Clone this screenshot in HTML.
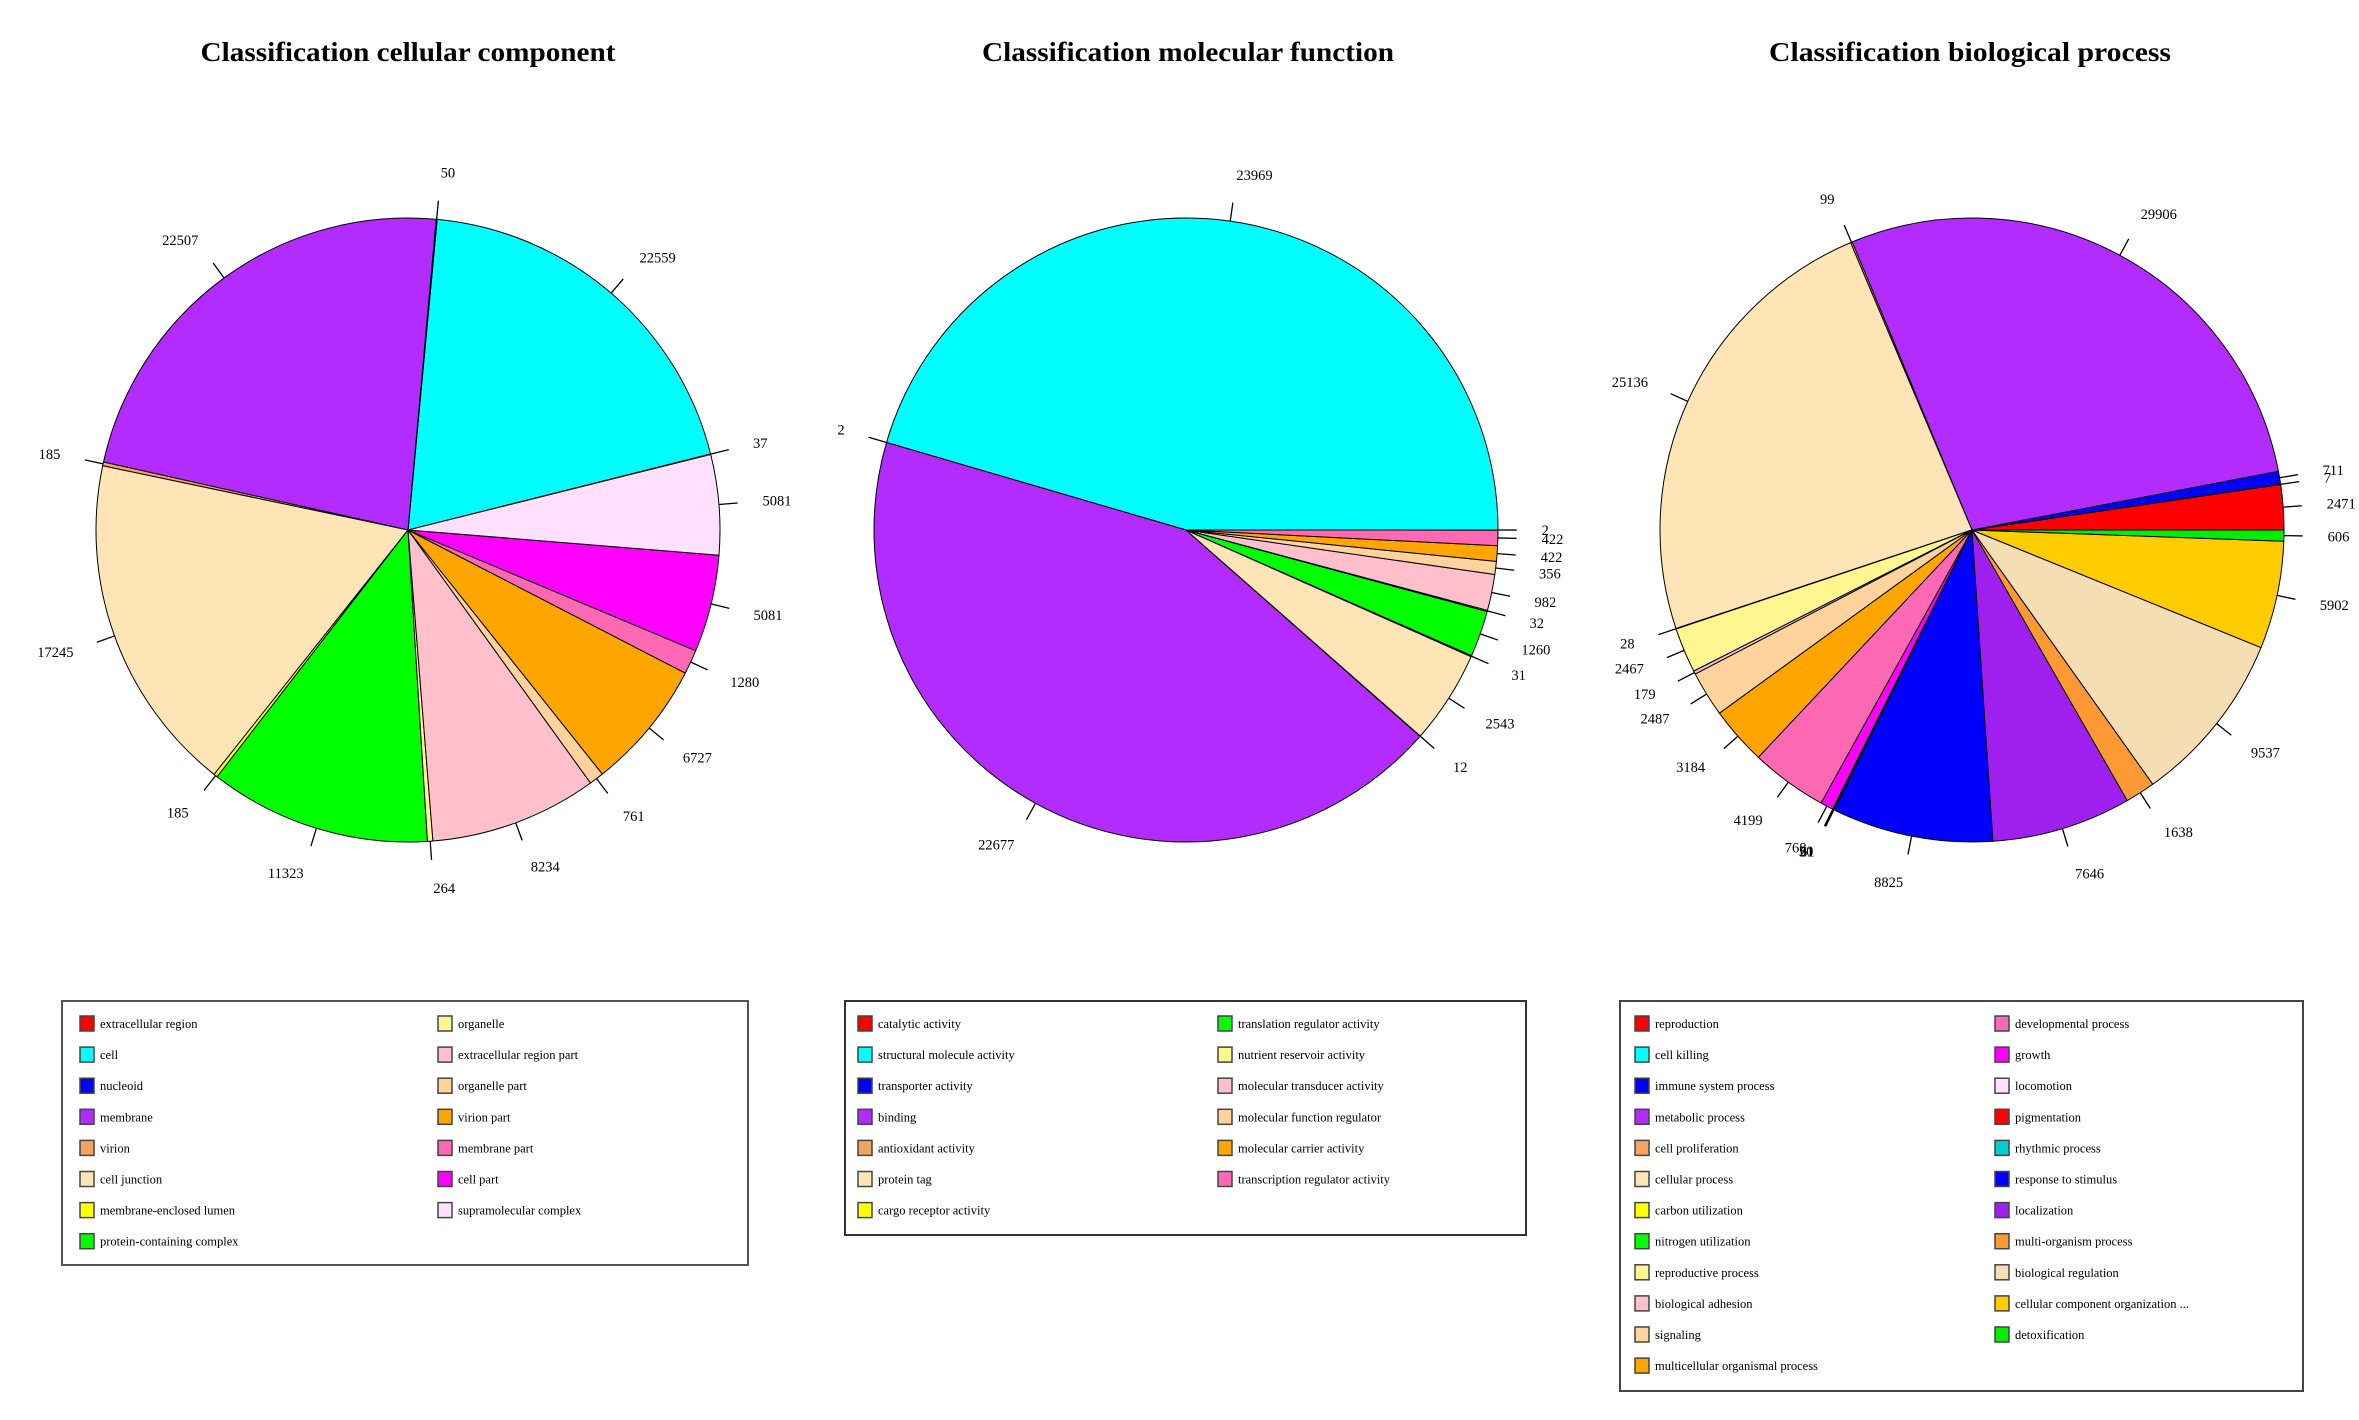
<!DOCTYPE html>
<html><head><meta charset="utf-8"><style>
html,body{margin:0;padding:0;background:#fff;}
svg{display:block;}
text{font-family:"Liberation Serif",serif;}
</style></head><body>
<svg id="s" width="2359" height="1420" viewBox="0 0 2359 1420" xmlns="http://www.w3.org/2000/svg">
<rect width="2359" height="1420" fill="#fff"/>
<text x="408" y="61" font-size="27" font-weight="bold" text-anchor="middle" textLength="415" lengthAdjust="spacingAndGlyphs">Classification cellular component</text>
<text x="1188" y="61" font-size="27" font-weight="bold" text-anchor="middle" textLength="412" lengthAdjust="spacingAndGlyphs">Classification molecular function</text>
<text x="1970" y="61" font-size="27" font-weight="bold" text-anchor="middle" textLength="402" lengthAdjust="spacingAndGlyphs">Classification biological process</text>
<g id="pies"></g>
<g font-size="12.5">
<rect x="62" y="1001" width="686" height="264" fill="none" stroke="#555" stroke-width="2"/>
<rect x="845" y="1001" width="681" height="234" fill="none" stroke="#333" stroke-width="2"/>
<rect x="1620" y="1001" width="683" height="390" fill="none" stroke="#444" stroke-width="2"/>
<g id="leg"></g>
</g>
</svg>
<script>
var NS="http://www.w3.org/2000/svg";
function el(t,a,p){var e=document.createElementNS(NS,t);for(var k in a)e.setAttribute(k,a[k]);p.appendChild(e);return e;}
var P=document.getElementById("pies");
function pie(cx,cy,r,start,data){
  var tot=0;data.forEach(function(d){tot+=d[0];});
  var a=start*Math.PI/180;
  data.forEach(function(d){
    var da=d[0]/tot*2*Math.PI, a2=a+da;
    var x1=cx+r*Math.cos(a),y1=cy-r*Math.sin(a),x2=cx+r*Math.cos(a2),y2=cy-r*Math.sin(a2);
    el("path",{d:"M"+cx+","+cy+" L"+x1+","+y1+" A"+r+","+r+" 0 "+(da>Math.PI?1:0)+" 0 "+x2+","+y2+" Z",fill:d[1],stroke:"#000","stroke-width":"1"},P);
    var m=(a+a2)/2,c=Math.cos(m),s=Math.sin(m);
    if(d[2]!==""){
      el("line",{x1:cx+r*c,y1:cy-r*s,x2:cx+1.06*r*c,y2:cy-1.06*r*s,stroke:"#000","stroke-width":"1.3"},P);
      var t=el("text",{x:cx+1.14*r*c,y:cy-1.15*r*s+5,"font-size":"14.5","text-anchor":c>0?"start":"end"},P);
      t.textContent=d[2];
    }
    a=a2;
  });
}
pie(408,530,312,14,[
[0.13,"#FF0000","37"],[70,"#00FFFF","22559"],[0.18,"#0000FF","50"],[82,"#B22BFF","22507"],[0.7,"#F4A460","185"],
[63,"#FFE4B5","17245"],[0.7,"#FFFF00","185"],[41,"#00FF00","11323"],[1,"#FFF68F","264"],[31,"#FFC0CB","8234"],
[2.7,"#FFD39B","761"],[24,"#FFA500","6727"],[4.5,"#FF69B4","1280"],[18,"#FF00FF","5081"],[18.5,"#FFE1FF","5081"]]);
pie(1186,530,312,0,[
[23969,"#00FFFF","23969"],[2,"#0000FF","2"],[22677,"#B22BFF","22677"],[12,"#F4A460","12"],[2543,"#FFE4B5","2543"],
[31,"#FFFF00","31"],[1260,"#00FF00","1260"],[32,"#FFF68F","32"],[982,"#FFC0CB","982"],[356,"#FFD39B","356"],
[422,"#FFA500","422"],[422,"#FF69B4","422"],[2,"#FF0000","2"]]);
pie(1972,530,312,0,[
[2471,"#FF0000","2471"],[7,"#00FFFF","7"],[711,"#0000FF","711"],[29906,"#B22BFF","29906"],[99,"#F4A460","99"],
[25136,"#FFE4B5","25136"],[28,"#FFFF00","28"],[2467,"#FFF68F","2467"],[179,"#FFC0CB","179"],[2487,"#FFD39B","2487"],
[3184,"#FFA500","3184"],[4199,"#FF69B4","4199"],[700,"#FF00FF","768"],[30,"#FFE1FF","30"],[20,"#FF0000","21"],[60,"#00CED1","61"],
[8825,"#0000FF","8825"],[7646,"#A020F0","7646"],[1638,"#FF9933","1638"],[9537,"#F5DEB3","9537"],[5902,"#FFCC00","5902"],[606,"#00EE00","606"]]);
var L=document.getElementById("leg");
function leg(x1,x2,items){
  items.forEach(function(it,i){
    var col=i%2, row=Math.floor(i/2);
    var x=col?x2:x1, y=1016+row*31.1;
    el("rect",{x:x,y:y,width:14,height:15,fill:it[1],stroke:"#444","stroke-width":"1.5"},L);
    var t=el("text",{x:x+20,y:y+12,"font-size":"12.5"},L);t.textContent=it[0];
  });
}
leg(80,438,[["extracellular region","#FF0000"],["organelle","#FFF68F"],["cell","#00FFFF"],["extracellular region part","#FFC0CB"],
["nucleoid","#0000FF"],["organelle part","#FFD39B"],["membrane","#B22BFF"],["virion part","#FFA500"],["virion","#F4A460"],["membrane part","#FF69B4"],
["cell junction","#FFE4B5"],["cell part","#FF00FF"],["membrane-enclosed lumen","#FFFF00"],["supramolecular complex","#FFE1FF"],["protein-containing complex","#00FF00"]]);
leg(858,1218,[["catalytic activity","#FF0000"],["translation regulator activity","#00FF00"],["structural molecule activity","#00FFFF"],["nutrient reservoir activity","#FFF68F"],
["transporter activity","#0000FF"],["molecular transducer activity","#FFC0CB"],["binding","#B22BFF"],["molecular function regulator","#FFD39B"],
["antioxidant activity","#F4A460"],["molecular carrier activity","#FFA500"],["protein tag","#FFE4B5"],["transcription regulator activity","#FF69B4"],["cargo receptor activity","#FFFF00"]]);
leg(1635,1995,[["reproduction","#FF0000"],["developmental process","#FF69B4"],["cell killing","#00FFFF"],["growth","#FF00FF"],
["immune system process","#0000FF"],["locomotion","#FFE1FF"],["metabolic process","#B22BFF"],["pigmentation","#FF0000"],
["cell proliferation","#F4A460"],["rhythmic process","#00CED1"],["cellular process","#FFE4B5"],["response to stimulus","#0000FF"],
["carbon utilization","#FFFF00"],["localization","#A020F0"],["nitrogen utilization","#00FF00"],["multi-organism process","#FF9933"],
["reproductive process","#FFF68F"],["biological regulation","#F5DEB3"],["biological adhesion","#FFC0CB"],["cellular component organization ...","#FFCC00"],
["signaling","#FFD39B"],["detoxification","#00EE00"],["multicellular organismal process","#FFA500"]]);
</script>
</body></html>
